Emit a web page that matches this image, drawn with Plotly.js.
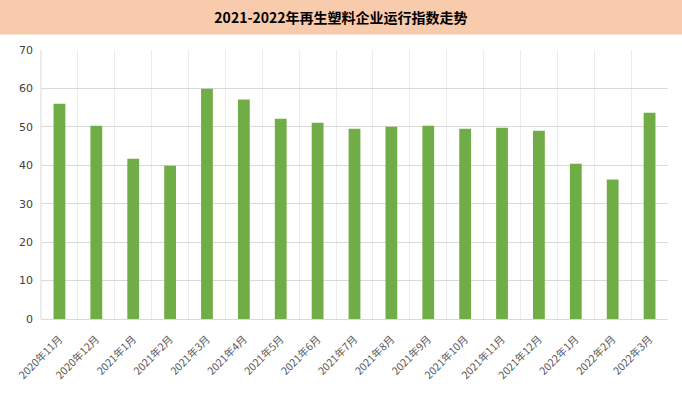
<!DOCTYPE html>
<html><head><meta charset="utf-8">
<script src="https://cdn.plot.ly/plotly-3.0.1.min.js"></script>
<style>html,body{margin:0;padding:0;background:#fff}#c{width:682px;height:394px}</style>
</head><body><div id="c"></div>
<script>
const months = ["2020年11月","2020年12月","2021年1月","2021年2月","2021年3月","2021年4月","2021年5月","2021年6月","2021年7月","2021年8月","2021年9月","2021年10月","2021年11月","2021年12月","2022年1月","2022年2月","2022年3月"];
const indexValues = [56.0,50.3,41.7,39.9,59.9,57.1,52.1,51.1,49.5,50.0,50.3,49.5,49.8,49.0,40.4,36.3,53.7];
const yTicks = [0,10,20,30,40,50,60,70];
const chartTitle = "2021-2022年再生塑料企业运行指数走势";

const L=41,R=14,T=50,B=75,W=682,H=394;
const pw=W-L-R, ph=H-T-B;
Plotly.newPlot('c',[{
  type:'bar', x:months, y:indexValues,
  marker:{color:'#70AD47'}, hoverinfo:'skip'
}],{
  width:W,height:H,
  margin:{l:L,r:R,t:T,b:B},
  paper_bgcolor:'#fff',plot_bgcolor:'#fff',
  bargap:0.68,
  showlegend:false,
  title:{text:chartTitle,x:0.5,xanchor:'center',y:1-18/H,yanchor:'middle',yref:'container',
    font:{family:'"Noto Sans CJK SC", sans-serif',size:14,color:'#000',weight:'bold'}},
  shapes:[{type:'rect',xref:'paper',yref:'paper',x0:-L/pw,x1:1+R/pw,y0:1+(T-34.5)/ph,y1:1+T/ph,
    fillcolor:'#F8CBAD',line:{width:0},layer:'below'},
    {type:'line',xref:'paper',yref:'paper',x0:0,x1:0,y0:0,y1:1,line:{color:'#d9d9d9',width:1}}],
  xaxis:{type:'category',tickson:'boundaries',showgrid:true,gridcolor:'#ececec',gridwidth:1,
    ticks:'',tickangle:-45,showline:true,linecolor:'#d9d9d9',linewidth:1,ticklabelstandoff:9,
    tickfont:{family:'"Noto Sans CJK SC", sans-serif',size:10.5,color:'#595959'},zeroline:false},
  yaxis:{range:[0,70],tickvals:yTicks,showgrid:true,gridcolor:'#d9d9d9',gridwidth:1,zeroline:false,
    ticks:'',ticklabelstandoff:7,tickfont:{family:'"DejaVu Sans", sans-serif',size:11,color:'#404040'},showline:false}
},{displayModeBar:false,staticPlot:true});
</script></body></html>
